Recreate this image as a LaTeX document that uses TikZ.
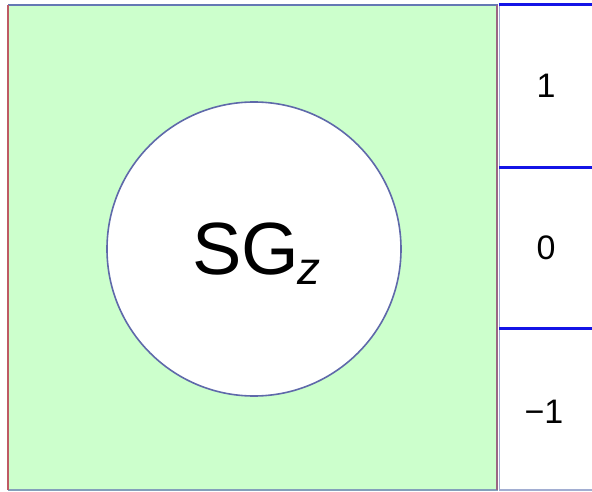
\documentclass[tikz,border=0pt]{standalone}
\usepackage{fontspec}
\setmainfont{Liberation Sans}
\definecolor{pgreen}{RGB}{204,255,204}
\definecolor{edgeblue}{RGB}{100,120,180}
\definecolor{edgered}{RGB}{190,90,100}
\definecolor{lineblue}{RGB}{20,20,230}
\definecolor{circedge}{RGB}{95,105,170}
\tikzset{
  lbl/.style={font=\fontsize{34}{40}\selectfont},
  sep/.style={draw=lineblue, line width=3pt},
}
\begin{document}
\begin{tikzpicture}[x=1pt,y=-1pt]
\useasboundingbox (0,0) rectangle (592,492);
\fill[white] (0,0) rectangle (592,492);
% green panel
\fill[pgreen] (8,5) rectangle (498,490);
\draw[edgeblue, line width=2pt] (8,5) -- (498,5);
\draw[edgeblue!70!pgreen, line width=1.6pt] (8,490) -- (498,490);
\draw[edgered, line width=2.5pt] (8,5) -- (8,490);
\draw[edgered!60!edgeblue, line width=2pt] (497,5) -- (497,490);
\draw[edgeblue!60, line width=1pt] (499.5,5) -- (499.5,490);
% circle
\node[circle, draw=circedge, fill=white, line width=1.6pt, minimum size=294pt, inner sep=0pt] (c) at (254,249) {};
\node[inner sep=0pt, anchor=base west, font=\fontsize{74}{80}\selectfont] (sg) at (192,274) {SG\kern-2pt\raisebox{-10pt}{\fontsize{46}{50}\selectfont\itshape z}};
% right column separators
\coordinate (t1) at (499,5); \coordinate (t2) at (592,5);
\coordinate (m1) at (499,168); \coordinate (m2) at (592,168);
\coordinate (n1) at (499,328); \coordinate (n2) at (592,328);
\coordinate (b1) at (499,490); \coordinate (b2) at (592,490);
\draw[sep] (t1) -- (t2);
\draw[sep] (m1) -- (m2);
\draw[sep] (n1) -- (n2);
\draw[draw=edgeblue!60, line width=1.5pt] (b1) -- (b2);
% labels
\node[lbl] (l1) at (546,86) {1};
\node[lbl] (l0) at (546,248) {0};
\node[lbl] (lm) at (544,412) {\char"2212 1};
\end{tikzpicture}
\end{document}
